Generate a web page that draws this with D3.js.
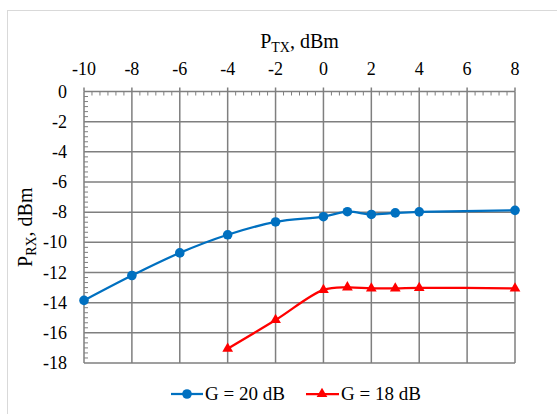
<!DOCTYPE html>
<html><head><meta charset="utf-8">
<script src="https://cdn.jsdelivr.net/npm/d3@7"></script>
<style>body{margin:0;background:#fff}svg{display:block}</style>
</head><body><svg id="c" width="557" height="414"></svg>
<script>
const xTicks=[-10,-8,-6,-4,-2,0,2,4,6,8];
const yTicks=[0,-2,-4,-6,-8,-10,-12,-14,-16,-18];
const g20X=[-10,-8,-6,-4,-2,0,1,2,3,4,8];
const g20Y=[-13.85,-12.2,-10.7,-9.5,-8.65,-8.3,-7.97,-8.15,-8.05,-7.98,-7.88];
const g18X=[-4,-2,0,1,2,3,4,8];
const g18Y=[-17.05,-15.15,-13.15,-12.98,-13.05,-13.05,-13.02,-13.05];
const seriesNames=["G = 20 dB","G = 18 dB"];

const FF='"Liberation Serif"';
const svg=d3.select("#c");
const L=84,R=515,T=91.5,B=363;
const x=d3.scaleLinear().domain([-10,8]).range([L,R]);
const y=d3.scaleLinear().domain([-18,0]).range([B,T]);

svg.append("rect").attr("x",7.5).attr("y",10.5).attr("width",600).attr("height",500)
  .attr("fill","none").attr("stroke","#d9d9d9").attr("stroke-width",1);

const grid=svg.append("g").attr("stroke","#7f7f7f").attr("stroke-width",1.5);
xTicks.forEach(v=>grid.append("line").attr("x1",x(v)).attr("x2",x(v)).attr("y1",T).attr("y2",B));
yTicks.forEach(v=>grid.append("line").attr("x1",L).attr("x2",R).attr("y1",y(v)).attr("y2",y(v)));

const xMinor=d3.range(-10,8.001,1/3).filter(v=>Math.abs(v/2-Math.round(v/2))>0.01);
const yMinor=d3.range(-18,0.001,1/3).filter(v=>Math.abs(v/2-Math.round(v/2))>0.01);
const mt=svg.append("g").attr("stroke","#7f7f7f").attr("stroke-width",1);
xMinor.forEach(v=>mt.append("line").attr("x1",x(v)).attr("x2",x(v)).attr("y1",T).attr("y2",T+4));
yMinor.forEach(v=>mt.append("line").attr("x1",L).attr("x2",L+4).attr("y1",y(v)).attr("y2",y(v)));
xTicks.forEach(v=>mt.append("line").attr("x1",x(v)).attr("x2",x(v)).attr("y1",T-4).attr("y2",T).attr("stroke-width",1.5));

svg.append("g").selectAll("text").data(xTicks).join("text").style("font-family",FF)
  .attr("x",d=>x(d)).attr("y",75).attr("text-anchor","middle").attr("font-size",18).text(d=>d);
svg.append("g").selectAll("text").data(yTicks).join("text").style("font-family",FF)
  .attr("x",67).attr("y",d=>y(d)+6).attr("text-anchor","end").attr("font-size",18).text(d=>d);

const xt=svg.append("text").style("font-family",FF).attr("x",(L+R)/2).attr("y",48).attr("text-anchor","middle").attr("font-size",20);
xt.append("tspan").text("P");
xt.append("tspan").attr("font-size",14).attr("dy",4).text("TX");
xt.append("tspan").attr("dy",-4).text(", dBm");

const yt=svg.append("text").style("font-family",FF).attr("transform",`translate(32,${(T+B)/2}) rotate(-90)`).attr("text-anchor","middle").attr("font-size",20);
yt.append("tspan").text("P");
yt.append("tspan").attr("font-size",14).attr("dy",4).text("RX");
yt.append("tspan").attr("dy",-4).text(", dBm");

const line=d3.line().curve(d3.curveCatmullRom.alpha(0.5));
const d20=g20X.map((v,i)=>[x(v),y(g20Y[i])]);
const d18=g18X.map((v,i)=>[x(v),y(g18Y[i])]);
svg.append("path").attr("d",line(d20)).attr("fill","none").attr("stroke","#0070c0").attr("stroke-width",2.25);
svg.append("path").attr("d",line(d18)).attr("fill","none").attr("stroke","#ff0000").attr("stroke-width",2.25);
svg.append("g").selectAll("circle").data(d20).join("circle").attr("cx",d=>d[0]).attr("cy",d=>d[1]).attr("r",4.8).attr("fill","#0070c0");
const tri=d3.symbol().type(d3.symbolTriangle).size(50);
svg.append("g").selectAll("path").data(d18).join("path").attr("transform",d=>`translate(${d[0]},${d[1]})`).attr("d",tri).attr("fill","#ff0000");

const ly=394;
svg.append("line").attr("x1",171).attr("x2",203).attr("y1",ly).attr("y2",ly).attr("stroke","#0070c0").attr("stroke-width",2.25);
svg.append("circle").attr("cx",187).attr("cy",ly).attr("r",4.8).attr("fill","#0070c0");
svg.append("text").style("font-family",FF).attr("x",205).attr("y",ly+6).attr("font-size",19).text(seriesNames[0]);
svg.append("line").attr("x1",306).attr("x2",339).attr("y1",ly).attr("y2",ly).attr("stroke","#ff0000").attr("stroke-width",2.25);
svg.append("path").attr("transform",`translate(322,${ly})`).attr("d",tri).attr("fill","#ff0000");
svg.append("text").style("font-family",FF).attr("x",341).attr("y",ly+6).attr("font-size",19).text(seriesNames[1]);
</script></body></html>
